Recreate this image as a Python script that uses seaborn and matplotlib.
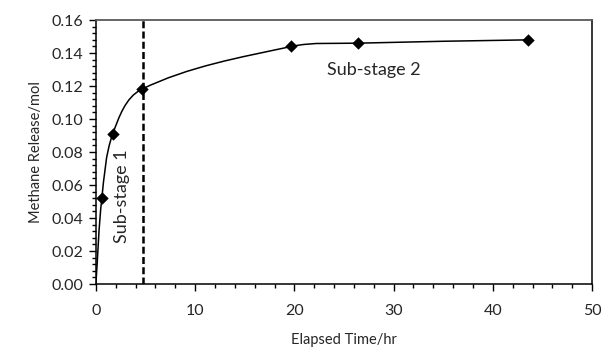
import matplotlib
matplotlib.use("Agg")
import matplotlib.pyplot as plt
from matplotlib.path import Path
from matplotlib.patches import PathPatch
from matplotlib.ticker import MultipleLocator, FormatStrFormatter
import seaborn as sns
import numpy as np
import pandas as pd

# measured points (hours, mol)
hours = [0.6, 1.7, 4.6, 19.7, 26.4, 43.5]
methane = [0.052, 0.091, 0.118, 0.144, 0.146, 0.148]
# the smoothed curve starts at the origin
start_x, start_y = 0.0, 0.0
split_hr = 4.7

sns.set_style("ticks")
plt.rcParams["font.family"] = ["Lato", "DejaVu Sans"]

fig = plt.figure(figsize=(6.03, 3.52), dpi=100)
ax = fig.add_axes([0.159, 0.193, 0.823, 0.75])
ax.set_xlim(0, 50)
ax.set_ylim(0, 0.16)

# excel-like smoothed line, worked out in screen scale so x and y weigh the same
bb = ax.get_position()
sx = bb.width * 603 / 50
sy = bb.height * 352 / 0.16
px = np.array([start_x] + hours) * sx
py = np.array([start_y] + methane) * sy
n = len(px)


def unit(dx, dy):
    d = np.hypot(dx, dy)
    return dx / d, dy / d


verts = [(px[0] / sx, py[0] / sy)]
codes = [Path.MOVETO]
for i in range(n - 1):
    i0 = max(i - 1, 0)
    i3 = min(i + 2, n - 1)
    chord = np.hypot(px[i + 1] - px[i], py[i + 1] - py[i]) / 3
    ux, uy = unit(px[i + 1] - px[i0], py[i + 1] - py[i0])
    vx, vy = unit(px[i3] - px[i], py[i3] - py[i])
    c1 = ((px[i] + ux * chord) / sx, (py[i] + uy * chord) / sy)
    c2 = ((px[i + 1] - vx * chord) / sx, (py[i + 1] - vy * chord) / sy)
    verts += [c1, c2, (px[i + 1] / sx, py[i + 1] / sy)]
    codes += [Path.CURVE4] * 3
ax.add_patch(PathPatch(Path(verts, codes), facecolor="none", edgecolor="black", lw=1.1, zorder=2))

df = pd.DataFrame({"Elapsed Time/hr": hours, "Methane Release/mol": methane})
sns.scatterplot(data=df, x="Elapsed Time/hr", y="Methane Release/mol", marker="D",
                s=40, color="black", edgecolor="black", linewidth=0, ax=ax, zorder=3)

ax.axvline(split_hr, color="black", lw=1.8, ls=(0, (2.8, 1.3)), zorder=1)

ax.set_xlim(0, 50)
ax.set_ylim(0, 0.16)
ax.xaxis.set_major_locator(MultipleLocator(10))
ax.xaxis.set_minor_locator(MultipleLocator(2))
ax.yaxis.set_major_locator(MultipleLocator(0.02))
ax.yaxis.set_minor_locator(MultipleLocator(0.004))
ax.yaxis.set_major_formatter(FormatStrFormatter("%.2f"))
ax.tick_params(which="major", length=5, width=1, color="black", labelsize=11.5, pad=9)
ax.tick_params(which="minor", length=3, width=1, color="black")
ax.tick_params(axis="y", which="major", pad=4)

for side in ["left", "bottom", "right"]:
    ax.spines[side].set_color("black")
    ax.spines[side].set_linewidth(1.1)
ax.spines["top"].set_color("#595959")
ax.spines["top"].set_linewidth(1.3)

ax.set_xlabel("Elapsed Time/hr", fontsize=10.5, labelpad=11)
ax.set_ylabel("Methane Release/mol", fontsize=10.5, labelpad=6)
ax.yaxis.label.set_fontstretch("expanded")

ax.text(28.0, 0.130, "Sub-stage 2", fontsize=13, ha="center", va="center")
ax.text(2.6, 0.053, "Sub-stage 1", fontsize=13, ha="center", va="center", rotation=90)

fig.savefig("out.png", dpi=100)
